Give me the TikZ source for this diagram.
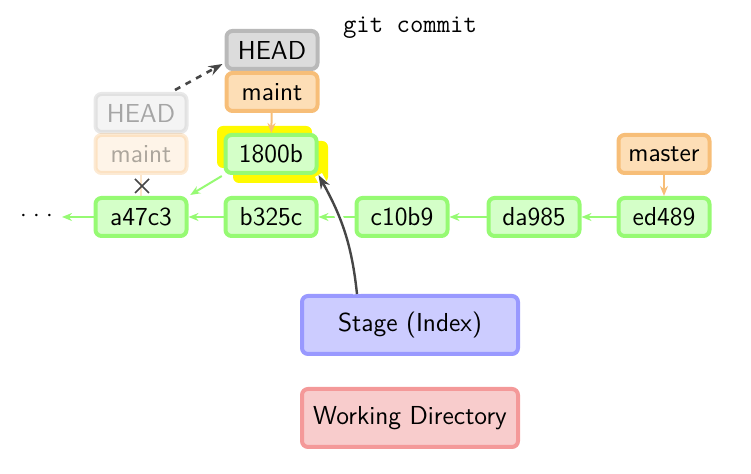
\documentclass[tikz,border=0pt]{standalone}
\usetikzlibrary{arrows.meta}
\definecolor{cgreen}{RGB}{150,250,115}
\definecolor{cgreenfill}{RGB}{212,255,200}
\definecolor{corange}{RGB}{247,190,120}
\definecolor{corangefill}{RGB}{253,222,182}
\definecolor{cgray}{RGB}{185,185,185}
\definecolor{cgrayfill}{RGB}{220,220,220}
\definecolor{cblue}{RGB}{153,153,255}
\definecolor{cbluefill}{RGB}{204,204,255}
\definecolor{cred}{RGB}{244,153,153}
\definecolor{credfill}{RGB}{248,204,204}
\definecolor{cdark}{RGB}{70,70,70}
\definecolor{cyellow}{RGB}{255,250,0}
\begin{document}
\begin{tikzpicture}[x=0.5pt,y=0.5pt,
  font=\sffamily\fontsize{13}{15}\selectfont,
  box/.style={rounded corners=3pt,line width=2pt,minimum width=45.5pt,minimum height=19pt,inner sep=0pt,text=black},
  commit/.style={box,draw=cgreen,fill=cgreenfill},
  branch/.style={box,draw=corange,fill=corangefill},
  headbox/.style={box,draw=cgray,fill=cgrayfill},
  faded/.style={opacity=0.32},
  area/.style={rounded corners=3pt,line width=2pt,minimum width=108pt,minimum height=29pt,inner sep=0pt},
  garrow/.style={draw=cgreen,line width=1pt,-{Stealth[length=5pt,width=4pt]}},
  oarrow/.style={draw=corange,line width=1pt,-{Stealth[length=5pt,width=4pt]}},
  darrow/.style={draw=cdark,line width=1.2pt,-{Stealth[length=7pt,width=5pt]}}]
\useasboundingbox (0,0) rectangle (751,474);
% yellow highlight
\fill[cyellow,rounded corners=3pt] (217,306) rectangle (312,348);
\fill[cyellow,rounded corners=3pt] (233,291) rectangle (328,333);
% commits
\node[commit] (a47c3) at (141,257) {a47c3};
\node[commit] (b325c) at (271,257) {b325c};
\node[commit] (c10b9) at (402,257) {c10b9};
\node[commit] (da985) at (534,257) {da985};
\node[commit] (ed489) at (664,257) {ed489};
\node[commit] (c1800) at (271,320) {1800b};
\node[branch] (master) at (664,320) {master};
% new head
\node[headbox] (head) at (272,424) {HEAD};
\node[branch] (maint) at (272,382) {maint};
% faded head
\node[headbox,faded] (fhead) at (141,361) {HEAD};
\node[branch,faded] (fmaint) at (141,320) {maint};
% areas
\node[area,draw=cblue,fill=cbluefill] (stage) at (410,149) {Stage (Index)};
\node[area,draw=cred,fill=credfill] (work) at (410,56) {Working Directory};
\node[font=\ttfamily\fontsize{13}{15}\selectfont] (cmd) at (410,446) {git commit};
\node[inner sep=0pt] (dots) at (36.5,258) {$\cdot$\hspace{3.2pt}$\cdot$\hspace{3.2pt}$\cdot$};
\coordinate (dotsend) at (62,257);
% chain arrows
\draw[garrow] (ed489) -- (da985);
\draw[garrow] (da985) -- (c10b9);
\draw[garrow] (c10b9) -- (b325c);
\draw[garrow] (b325c) -- (a47c3);
\draw[garrow] (a47c3) -- (dotsend);
\draw[garrow,shorten <=1pt,shorten >=1pt] (c1800.south west) -- (a47c3.north east);
\draw[oarrow] (master) -- (ed489);
\draw[oarrow] (maint) -- (c1800);
% crossed old pointer
\draw[draw=corange,line width=1pt,opacity=0.4] (fmaint) -- (a47c3);
\coordinate (xm) at (142,288);
\draw[cdark,line width=0.8pt] ([shift={(-7,-7)}]xm) -- ([shift={(7,7)}]xm) ([shift={(-7,7)}]xm) -- ([shift={(7,-7)}]xm);
% dashed move
\draw[darrow,dashed,line width=1.3pt] ([xshift=17pt,yshift=1pt]fhead.north) -- ([yshift=-7pt,xshift=-1pt]head.west);
% stage to commit
\draw[darrow,preaction={draw=white,line width=4pt,-}] ([xshift=-26.5pt]stage.north) to[out=96,in=-61] (c1800.south east);
\end{tikzpicture}
\end{document}
